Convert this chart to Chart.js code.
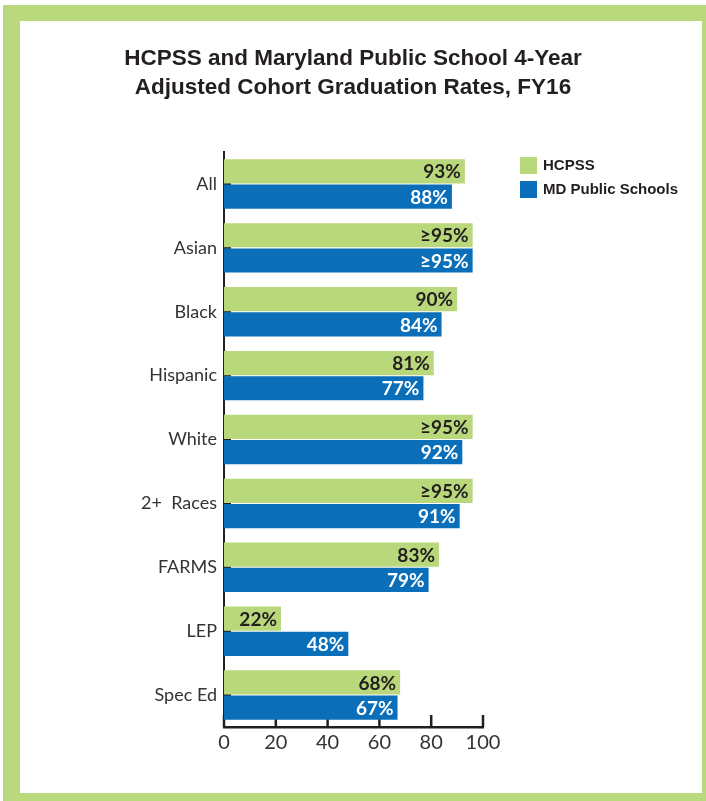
<!DOCTYPE html>
<html lang="en">
<head>
<meta charset="UTF-8">
<title>HCPSS Graduation Rates</title>
<script src="https://cdn.jsdelivr.net/npm/chart.js@4/dist/chart.umd.min.js"></script>
<style>
    html, body {
        margin: 0;
        padding: 0;
        background: #fff;
    }

    .frame {
        position: absolute;
        left: 3px;
        top: 5px;
        width: 703px;
        height: 796px;
        background: #b9d97c;
    }

    .inner {
        position: absolute;
        left: 20px;
        top: 21px;
        width: 682px;
        height: 772px;
        background: #fff;
    }

    .wrap {
        position: absolute;
        left: 0;
        top: 0;
        width: 706px;
        height: 801px;
    }
</style>
</head>
<body>
<div class="frame"></div>
<div class="inner"></div>
<div class="wrap"><canvas id="chart" width="706" height="801"></canvas></div>
<script>
    var categories = ["All", "Asian", "Black", "Hispanic", "White", "2+  Races", "FARMS", "LEP", "Spec Ed"];
    var hcpss = [93, 96, 90, 81, 96, 96, 83, 22, 68];
    var mdPublic = [88, 96, 84, 77, 92, 91, 79, 48, 67];
    var hcpssLabels = ["93%", "≥95%", "90%", "81%", "≥95%", "≥95%", "83%", "22%", "68%"];
    var mdLabels = ["88%", "≥95%", "84%", "77%", "92%", "91%", "79%", "48%", "67%"];
    var xTicks = [0, 20, 40, 60, 80, 100];

    var GREEN = "#b8d87b";
    var BLUE = "#0a6fb8";
    var INK = "#231f20";

    // inward tick marks on both axes, drawn under the bars
    var innerTicks = {
        id: "innerTicks",
        beforeDatasetsDraw: function (chart) {
            var ctx = chart.ctx, area = chart.chartArea;
            var x = chart.scales.x, y = chart.scales.y;
            ctx.save();
            ctx.strokeStyle = INK;
            ctx.lineWidth = 2.5;
            xTicks.forEach(function (v) {
                var px = x.getPixelForValue(v);
                ctx.beginPath();
                ctx.moveTo(px, area.bottom);
                ctx.lineTo(px, area.bottom - 12);
                ctx.stroke();
            });
            ctx.lineWidth = 2;
            categories.forEach(function (c, i) {
                var py = y.getPixelForValue(i);
                ctx.beginPath();
                ctx.moveTo(area.left, py);
                ctx.lineTo(area.left + 7, py);
                ctx.stroke();
            });
            ctx.restore();
        }
    };

    var valueLabels = {
        id: "valueLabels",
        afterDatasetsDraw: function (chart) {
            var ctx = chart.ctx;
            var sets = [hcpssLabels, mdLabels];
            var colors = [INK, "#ffffff"];
            ctx.save();
            ctx.font = "bold 19px Lato";
            ctx.textAlign = "right";
            ctx.textBaseline = "middle";
            chart.data.datasets.forEach(function (ds, d) {
                chart.getDatasetMeta(d).data.forEach(function (bar, i) {
                    ctx.fillStyle = colors[d];
                    ctx.fillText(sets[d][i], bar.x - 4, bar.y + 1);
                });
            });
            ctx.restore();
        }
    };

    var sideLegend = {
        id: "sideLegend",
        afterDraw: function (chart) {
            var ctx = chart.ctx;
            ctx.save();
            ctx.font = "bold 15px 'Liberation Sans'";
            ctx.textBaseline = "middle";
            ctx.textAlign = "left";
            chart.data.datasets.forEach(function (ds, d) {
                var top = 157 + d * 24;
                ctx.fillStyle = ds.backgroundColor;
                ctx.fillRect(520, top, 17, 17);
                ctx.fillStyle = INK;
                ctx.fillText(ds.label, 543, top + 9);
            });
            ctx.restore();
        }
    };

    var ctx = document.getElementById("chart").getContext("2d");
    var chart = new Chart(ctx, {
        type: "bar",
        data: {
            labels: categories,
            datasets: [
                {
                    label: "HCPSS",
                    data: hcpss,
                    backgroundColor: GREEN,
                    categoryPercentage: 0.79,
                    barPercentage: 0.96
                },
                {
                    label: "MD Public Schools",
                    data: mdPublic,
                    backgroundColor: BLUE,
                    categoryPercentage: 0.79,
                    barPercentage: 0.96
                }
            ]
        },
        options: {
            indexAxis: "y",
            responsive: false,
            animation: false,
            layout: {padding: 0},
            plugins: {
                legend: {display: false},
                tooltip: {enabled: false},
                title: {
                    display: true,
                    text: ["HCPSS and Maryland Public School 4-Year", "Adjusted Cohort Graduation Rates, FY16"],
                    color: INK,
                    font: {family: "'Liberation Sans', Arial, sans-serif", size: 22.5, weight: "bold", lineHeight: 1.29},
                    padding: {top: 44, bottom: 50}
                }
            },
            scales: {
                x: {
                    type: "linear",
                    position: "bottom",
                    min: 0,
                    max: 100,
                    afterBuildTicks: function (s) {
                        s.ticks = xTicks.map(function (v) { return {value: v}; });
                    },
                    ticks: {color: "#333", font: {family: "Lato", size: 20}, padding: 4},
                    grid: {display: false, drawTicks: false},
                    border: {display: true, color: INK, width: 2.5},
                    afterFit: function (s) { s.height = 74; }
                },
                y: {
                    type: "category",
                    position: "left",
                    ticks: {color: "#333", font: {family: "Lato", size: 18}, padding: 7},
                    grid: {display: false, drawTicks: false},
                    border: {display: true, color: INK, width: 2},
                    afterFit: function (s) { s.width = 224; }
                },
                yRight: {
                    type: "category",
                    position: "right",
                    ticks: {display: false},
                    grid: {display: false, drawTicks: false},
                    border: {display: false},
                    afterFit: function (s) { s.width = 223; }
                }
            }
        },
        plugins: [innerTicks, valueLabels, sideLegend]
    });
</script>
</body>
</html>
